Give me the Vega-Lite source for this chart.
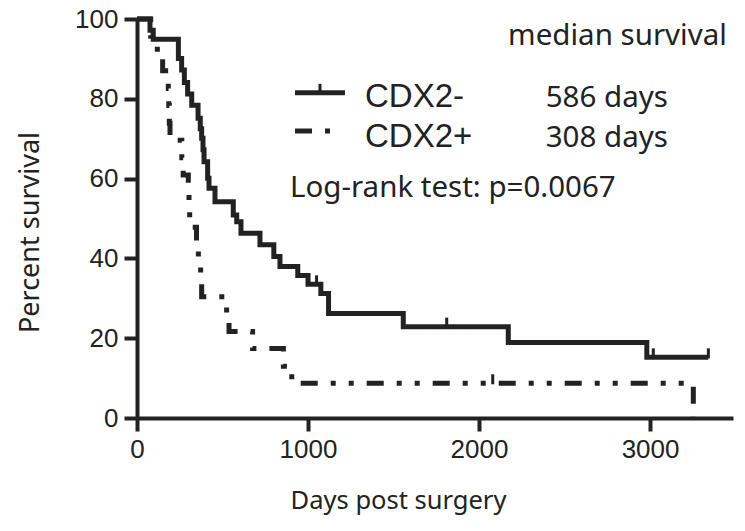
{
  "$schema": "https://vega.github.io/schema/vega-lite/v6.json",
  "width": 596,
  "height": 399,
  "autosize": "none",
  "padding": {"left": 137, "top": 19, "right": 12, "bottom": 113},
  "background": "white",
  "config": {
    "view": {"stroke": null},
    "axis": {
      "domainColor": "#222222",
      "domainWidth": 4,
      "tickColor": "#222222",
      "tickWidth": 4,
      "tickSize": 13,
      "grid": false,
      "labelFont": "Liberation Sans",
      "labelFontSize": 26,
      "labelColor": "#222222",
      "titleFont": "Noto Sans",
      "titleFontSize": 27,
      "titleFontWeight": "normal",
      "titleColor": "#222222"
    }
  },
  "datasets": {
    "surv": [
      {"group": "CDX2-", "day": 0, "pct": 100},
      {"group": "CDX2-", "day": 76, "pct": 97.2},
      {"group": "CDX2-", "day": 95, "pct": 94.9},
      {"group": "CDX2-", "day": 242, "pct": 90.1},
      {"group": "CDX2-", "day": 261, "pct": 87.2},
      {"group": "CDX2-", "day": 277, "pct": 84.1},
      {"group": "CDX2-", "day": 296, "pct": 81.2},
      {"group": "CDX2-", "day": 320, "pct": 78.4},
      {"group": "CDX2-", "day": 357, "pct": 75.1},
      {"group": "CDX2-", "day": 370, "pct": 72.5},
      {"group": "CDX2-", "day": 378, "pct": 70.1},
      {"group": "CDX2-", "day": 386, "pct": 67.2},
      {"group": "CDX2-", "day": 392, "pct": 64.2},
      {"group": "CDX2-", "day": 413, "pct": 60.1},
      {"group": "CDX2-", "day": 421, "pct": 57.6},
      {"group": "CDX2-", "day": 456, "pct": 54.2},
      {"group": "CDX2-", "day": 563, "pct": 50.9},
      {"group": "CDX2-", "day": 583, "pct": 49.2},
      {"group": "CDX2-", "day": 608, "pct": 46.3},
      {"group": "CDX2-", "day": 719, "pct": 43.4},
      {"group": "CDX2-", "day": 800, "pct": 40.5},
      {"group": "CDX2-", "day": 836, "pct": 38.0},
      {"group": "CDX2-", "day": 940, "pct": 35.7},
      {"group": "CDX2-", "day": 1000, "pct": 33.5},
      {"group": "CDX2-", "day": 1075, "pct": 31.2},
      {"group": "CDX2-", "day": 1120, "pct": 26.2},
      {"group": "CDX2-", "day": 1557, "pct": 22.9},
      {"group": "CDX2-", "day": 2171, "pct": 18.9},
      {"group": "CDX2-", "day": 2981, "pct": 15.2},
      {"group": "CDX2-", "day": 3341, "pct": 15.2},
      {"group": "CDX2+", "day": 0, "pct": 100},
      {"group": "CDX2+", "day": 80, "pct": 95.7},
      {"group": "CDX2+", "day": 119, "pct": 91.3},
      {"group": "CDX2+", "day": 150, "pct": 87.0},
      {"group": "CDX2+", "day": 183, "pct": 82.6},
      {"group": "CDX2+", "day": 186, "pct": 78.3},
      {"group": "CDX2+", "day": 189, "pct": 73.9},
      {"group": "CDX2+", "day": 193, "pct": 69.6},
      {"group": "CDX2+", "day": 262, "pct": 65.2},
      {"group": "CDX2+", "day": 270, "pct": 60.9},
      {"group": "CDX2+", "day": 300, "pct": 56.5},
      {"group": "CDX2+", "day": 304, "pct": 52.2},
      {"group": "CDX2+", "day": 308, "pct": 47.8},
      {"group": "CDX2+", "day": 348, "pct": 43.5},
      {"group": "CDX2+", "day": 359, "pct": 39.1},
      {"group": "CDX2+", "day": 372, "pct": 34.8},
      {"group": "CDX2+", "day": 378, "pct": 30.4},
      {"group": "CDX2+", "day": 524, "pct": 26.1},
      {"group": "CDX2+", "day": 538, "pct": 21.7},
      {"group": "CDX2+", "day": 676, "pct": 17.4},
      {"group": "CDX2+", "day": 856, "pct": 13.0},
      {"group": "CDX2+", "day": 905, "pct": 8.7},
      {"group": "CDX2+", "day": 3253, "pct": 0}
    ],
    "legendLines": [
      {"group": "CDX2-", "day": 924, "pct": 81.5},
      {"group": "CDX2-", "day": 1216, "pct": 81.5},
      {"group": "CDX2+", "day": 924, "pct": 71.9},
      {"group": "CDX2+", "day": 1175, "pct": 71.9}
    ],
    "censor": [
      {"group": "CDX2-", "day": 1050, "pct": 33.5},
      {"group": "CDX2-", "day": 1811, "pct": 22.9},
      {"group": "CDX2-", "day": 3019, "pct": 15.2},
      {"group": "CDX2-", "day": 3341, "pct": 15.2},
      {"group": "CDX2+", "day": 2080, "pct": 8.7},
      {"group": "CDX2-", "day": 1070, "pct": 81.5}
    ],
    "labelsSans": [
      {"day": 1333, "pct": 77.9, "label": "CDX2-"},
      {"day": 1333, "pct": 67.9, "label": "CDX2+"}
    ],
    "labelsHuman": [
      {"day": 2170, "pct": 93.5, "label": "median survival"},
      {"day": 2390, "pct": 77.9, "label": "586 days"},
      {"day": 2390, "pct": 67.9, "label": "308 days"},
      {"day": 895, "pct": 55.4, "label": "Log-rank test: p=0.0067"}
    ]
  },
  "layer": [
    {
      "data": {"name": "surv"},
      "mark": {"type": "line", "interpolate": "step-after", "strokeWidth": 5, "color": "#222222", "strokeCap": "butt", "clip": false},
      "encoding": {
        "x": {
          "field": "day", "type": "quantitative",
          "scale": {"domain": [0, 3485], "nice": false, "zero": true},
          "axis": {
            "values": [0, 1000, 2000, 3000],
            "format": "d",
            "labelFlush": false,
            "labelPadding": 5,
            "title": "Days post surgery",
            "titleFontSize": 25.5,
            "titleX": 261,
            "titleY": 90,
            "titleAlign": "center",
            "titleBaseline": "alphabetic"
          }
        },
        "y": {
          "field": "pct", "type": "quantitative",
          "scale": {"domain": [0, 100], "nice": false},
          "axis": {
            "values": [0, 20, 40, 60, 80, 100],
            "labelPadding": 6,
            "title": "Percent survival",
            "titleFontSize": 27,
            "titleX": -99,
            "titleY": 213,
            "titleAngle": -90,
            "titleAlign": "center",
            "titleBaseline": "alphabetic"
          }
        },
        "strokeDash": {
          "field": "group", "type": "nominal",
          "scale": {"domain": ["CDX2-", "CDX2+"], "range": [[1, 0], [17, 13, 5, 13, 5, 13]]},
          "legend": null
        },
        "detail": {"field": "group"}
      }
    },
    {
      "data": {"name": "legendLines"},
      "mark": {"type": "line", "strokeWidth": 5, "color": "#222222", "strokeCap": "butt"},
      "encoding": {
        "x": {"field": "day", "type": "quantitative"},
        "y": {"field": "pct", "type": "quantitative"},
        "strokeDash": {
          "field": "group", "type": "nominal",
          "scale": {"domain": ["CDX2-", "CDX2+"], "range": [[1, 0], [20, 4, 6, 3, 12, 100]]},
          "legend": null
        },
        "detail": {"field": "group"}
      }
    },
    {
      "data": {"name": "censor"},
      "mark": {"type": "tick", "orient": "vertical", "size": 10, "thickness": 3, "color": "#222222", "opacity": 1, "yOffset": -4},
      "encoding": {
        "x": {"field": "day", "type": "quantitative"},
        "y": {"field": "pct", "type": "quantitative"}
      }
    },
    {
      "data": {"name": "labelsSans"},
      "mark": {"type": "text", "font": "Liberation Sans", "fontSize": 33, "align": "left", "baseline": "alphabetic", "color": "#222222"},
      "encoding": {
        "x": {"field": "day", "type": "quantitative"},
        "y": {"field": "pct", "type": "quantitative"},
        "text": {"field": "label"}
      }
    },
    {
      "data": {"name": "labelsHuman"},
      "mark": {"type": "text", "font": "Noto Sans", "fontSize": 29.5, "align": "left", "baseline": "alphabetic", "color": "#222222"},
      "encoding": {
        "x": {"field": "day", "type": "quantitative"},
        "y": {"field": "pct", "type": "quantitative"},
        "text": {"field": "label"}
      }
    }
  ]
}
